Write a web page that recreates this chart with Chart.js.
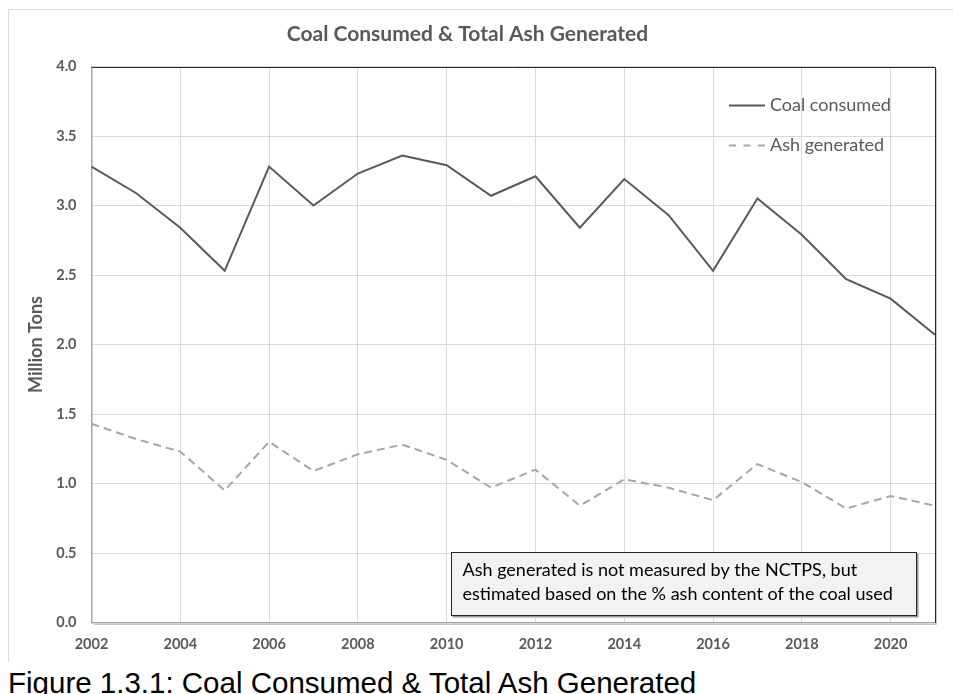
<!DOCTYPE html>
<html>
<head>
<meta charset="utf-8">
<title>Coal Consumed &amp; Total Ash Generated</title>
<script src="https://cdn.jsdelivr.net/npm/chart.js@4.4.0/dist/chart.umd.min.js"></script>
<style>
    html, body { margin: 0; padding: 0; background: #fff; overflow: hidden; }
    #wrap { position: absolute; left: 0; top: 0; width: 953px; height: 662px; }
    #caption {
        position: absolute; left: 8px; top: 668px;
        font-family: "Liberation Sans", Arial, sans-serif;
        font-size: 29.5px; line-height: 30px; color: #000; white-space: nowrap;
    }
</style>
</head>
<body>
<div id="wrap"><canvas id="chart"></canvas></div>
<div id="caption">Figure 1.3.1: Coal Consumed &amp; Total Ash Generated</div>
<script>
// data (million tons)
var years = [2002, 2003, 2004, 2005, 2006, 2007, 2008, 2009, 2010, 2011,
             2012, 2013, 2014, 2015, 2016, 2017, 2018, 2019, 2020, 2021];
var coalConsumed = [3.28, 3.09, 2.84, 2.53, 3.28, 3.00, 3.23, 3.36, 3.29, 3.07,
                    3.21, 2.84, 3.19, 2.93, 2.53, 3.05, 2.79, 2.47, 2.33, 2.07];
var ashGenerated = [1.43, 1.32, 1.23, 0.95, 1.30, 1.09, 1.21, 1.28, 1.17, 0.97,
                    1.10, 0.84, 1.03, 0.97, 0.88, 1.14, 1.01, 0.82, 0.91, 0.84];
var seriesLabels = ["Coal consumed", "Ash generated"];
var chartTitle = "Coal Consumed & Total Ash Generated";
var yAxisTitle = "Million Tons";
var noteLines = ["Ash generated is not measured by the NCTPS, but",
                 "estimated based on the % ash content of the coal used"];

var FONT = "Lato";
var GREY = "#595959";

function points(values) {
    var out = [];
    for (var i = 0; i < years.length; i++) {
        out.push({ x: years[i], y: values[i] });
    }
    return out;
}

// outer chart border + plot area frame
var framePlugin = {
    id: 'frame',
    beforeDraw: function (chart) {
        var ctx = chart.ctx;
        ctx.save();
        ctx.strokeStyle = '#d9d9d9';
        ctx.lineWidth = 1;
        ctx.beginPath();
        ctx.moveTo(8.5, chart.height);
        ctx.lineTo(8.5, 9.5);
        ctx.lineTo(chart.width, 9.5);
        ctx.stroke();
        ctx.restore();
    },
    beforeDatasetsDraw: function (chart) {
        var a = chart.chartArea, ctx = chart.ctx;
        var l = Math.round(a.left), t = Math.round(a.top);
        var r = Math.round(a.right), b = Math.round(a.bottom);
        ctx.save();
        ctx.lineWidth = 1;
        ctx.strokeStyle = '#c8c8c8';
        ctx.beginPath();
        ctx.moveTo(r + 1.5, t + 2);
        ctx.lineTo(r + 1.5, b + 1.5);
        ctx.lineTo(l + 2, b + 1.5);
        ctx.stroke();
        ctx.strokeStyle = '#262626';
        ctx.beginPath();
        ctx.moveTo(l, t + 0.5);
        ctx.lineTo(r + 0.5, t + 0.5);
        ctx.lineTo(r + 0.5, b);
        ctx.stroke();
        ctx.restore();
    }
};

// legend sits inside the plot, top right
var legendPlugin = {
    id: 'innerLegend',
    afterDatasetsDraw: function (chart) {
        var a = chart.chartArea, ctx = chart.ctx;
        var x0 = Math.round(a.right) - 206;
        var y0 = Math.round(a.top) + 38;
        chart.data.datasets.forEach(function (ds, i) {
            var y = y0 + i * 40 + 0.5;
            ctx.save();
            ctx.strokeStyle = ds.borderColor;
            ctx.lineWidth = ds.borderWidth;
            ctx.setLineDash(ds.borderDash ? [7, 7.5] : []);
            ctx.beginPath();
            ctx.moveTo(x0, y);
            ctx.lineTo(x0 + 36, y);
            ctx.stroke();
            ctx.fillStyle = GREY;
            ctx.font = '18px ' + FONT;
            ctx.textBaseline = 'middle';
            ctx.fillText(ds.label, x0 + 41, y);
            ctx.restore();
        });
    }
};

// note box bottom right
var notePlugin = {
    id: 'note',
    afterDatasetsDraw: function (chart) {
        var a = chart.chartArea, ctx = chart.ctx;
        var right = Math.round(a.right) - 18.5;
        var bottom = Math.round(a.bottom) - 7.5;
        var w = 465, h = 63;
        ctx.save();
        ctx.fillStyle = '#9a9a9a';
        ctx.fillRect(right - w + 1, bottom - h + 1, w + 1, h + 1);
        ctx.fillStyle = '#f2f2f2';
        ctx.fillRect(right - w, bottom - h, w, h);
        ctx.strokeStyle = '#262626';
        ctx.lineWidth = 1;
        ctx.strokeRect(right - w, bottom - h, w, h);
        ctx.fillStyle = '#000';
        ctx.font = '18px ' + FONT;
        ctx.textBaseline = 'middle';
        for (var i = 0; i < noteLines.length; i++) {
            ctx.fillText(noteLines[i], right - w + 11, bottom - h + 18 + i * 24);
        }
        ctx.restore();
    }
};

var ctx = document.getElementById('chart').getContext('2d');
var chart = new Chart(ctx, {
    type: 'line',
    data: {
        datasets: [{
            label: seriesLabels[0],
            data: points(coalConsumed),
            borderColor: '#595959',
            borderWidth: 2,
            pointRadius: 0,
            tension: 0
        }, {
            label: seriesLabels[1],
            data: points(ashGenerated),
            borderColor: '#a6a6a6',
            borderWidth: 2,
            borderDash: [8, 5],
            pointRadius: 0,
            tension: 0
        }]
    },
    options: {
        responsive: true,
        maintainAspectRatio: false,
        animation: false,
        layout: { padding: { left: 0, right: 18, top: 0, bottom: 0 } },
        plugins: {
            legend: { display: false },
            tooltip: { enabled: false },
            title: {
                display: true,
                text: chartTitle,
                color: GREY,
                font: { family: FONT, size: 21, weight: 'bold' },
                padding: { top: 21.4, bottom: 19.9 }
            }
        },
        scales: {
            x: {
                type: 'linear',
                min: years[0],
                max: years[years.length - 1],
                afterBuildTicks: function (scale) {
                    scale.ticks = scale.ticks.filter(function (t) { return t.value % 2 === 0; });
                },
                afterFit: function (scale) { scale.height = 39.5; },
                ticks: {
                    stepSize: 2,
                    includeBounds: false,
                    autoSkip: false,
                    padding: 13,
                    color: GREY,
                    font: { family: FONT, size: 14.5, weight: 'bold' },
                    maxRotation: 0,
                    callback: function (v) { return String(v); }
                },
                grid: { color: '#d9d9d9', lineWidth: 1, drawTicks: false },
                border: { color: '#a6a6a6', width: 1.5 }
            },
            y: {
                min: 0,
                max: 4,
                afterFit: function (scale) { scale.width = 91.5; },
                ticks: {
                    stepSize: 0.5,
                    padding: 15,
                    color: GREY,
                    font: { family: FONT, size: 14.5, weight: 'bold' },
                    callback: function (v) { return v.toFixed(1); }
                },
                grid: { color: '#d9d9d9', lineWidth: 1, drawTicks: false },
                border: { color: '#a6a6a6', width: 1.5 },
                title: {
                    display: true,
                    text: yAxisTitle,
                    color: GREY,
                    font: { family: FONT, size: 18, weight: 'bold' },
                    padding: { top: 25, bottom: 0 }
                }
            }
        }
    },
    plugins: [framePlugin, legendPlugin, notePlugin]
});
</script>
</body>
</html>
